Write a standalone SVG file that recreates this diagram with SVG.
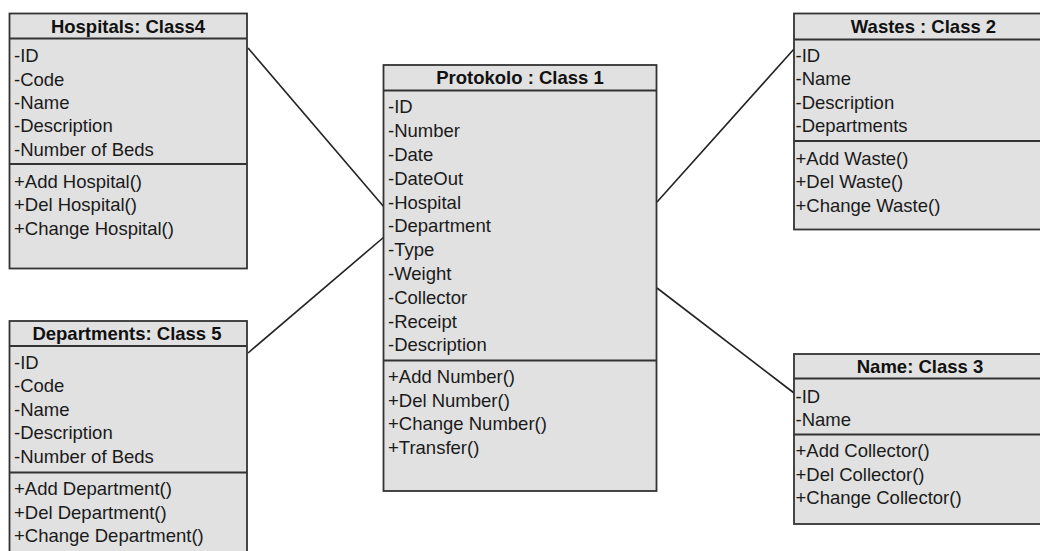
<svg xmlns="http://www.w3.org/2000/svg" width="1040" height="551" viewBox="0 0 1040 551">
<style>
.box{fill:#e1e1e1;stroke:#333;stroke-width:1.8}
.sep{stroke:#333;stroke-width:1.8}
.title{font-family:"Liberation Sans",Arial,sans-serif;font-size:18.5px;font-weight:bold;fill:#111;text-anchor:middle}
.item{font-family:"Liberation Sans",Arial,sans-serif;font-size:18.5px;fill:#1a1a1a}
.conn{stroke:#222;stroke-width:1.6;fill:none}
</style>
<rect width="1040" height="551" fill="#fff"/>
<g id="connectors">
<line class="conn" x1="248" y1="48" x2="384" y2="207"/>
<line class="conn" x1="248" y1="353" x2="384" y2="237"/>
<line class="conn" x1="657" y1="202" x2="794" y2="49"/>
<line class="conn" x1="657" y1="288" x2="794" y2="393"/>
</g>
<g id="hospitals">
<rect class="box" x="9.5" y="13.5" width="237.5" height="255"/>
<line class="sep" x1="9.5" y1="38.5" x2="247" y2="38.5"/>
<line class="sep" x1="9.5" y1="164" x2="247" y2="164"/>
<text class="title" x="128" y="32.5">Hospitals: Class4</text>
<text class="item" x="14" y="62">-ID</text>
<text class="item" x="14" y="85.5">-Code</text>
<text class="item" x="14" y="109">-Name</text>
<text class="item" x="14" y="132.3">-Description</text>
<text class="item" x="14" y="155.6">-Number of Beds</text>
<text class="item" x="14" y="187.5">+Add Hospital()</text>
<text class="item" x="14" y="211">+Del Hospital()</text>
<text class="item" x="14" y="234.5">+Change Hospital()</text>
</g>
<g id="departments">
<rect class="box" x="9.5" y="321" width="237.5" height="240"/>
<line class="sep" x1="9.5" y1="346" x2="247" y2="346"/>
<line class="sep" x1="9.5" y1="472.5" x2="247" y2="472.5"/>
<text class="title" x="127" y="339.5">Departments: Class 5</text>
<text class="item" x="14" y="368.5">-ID</text>
<text class="item" x="14" y="392">-Code</text>
<text class="item" x="14" y="415.5">-Name</text>
<text class="item" x="14" y="439">-Description</text>
<text class="item" x="14" y="462.5">-Number of Beds</text>
<text class="item" x="14" y="495">+Add Department()</text>
<text class="item" x="14" y="518.5">+Del Department()</text>
<text class="item" x="14" y="542">+Change Department()</text>
</g>
<g id="protokolo">
<rect class="box" x="383.5" y="65" width="273" height="426"/>
<line class="sep" x1="383.5" y1="90.5" x2="656.5" y2="90.5"/>
<line class="sep" x1="383.5" y1="360.5" x2="656.5" y2="360.5"/>
<text class="title" x="520" y="84">Protokolo : Class 1</text>
<text class="item" x="388" y="113.3">-ID</text>
<text class="item" x="388" y="137.1">-Number</text>
<text class="item" x="388" y="160.9">-Date</text>
<text class="item" x="388" y="184.7">-DateOut</text>
<text class="item" x="388" y="208.5">-Hospital</text>
<text class="item" x="388" y="232.3">-Department</text>
<text class="item" x="388" y="256.1">-Type</text>
<text class="item" x="388" y="279.9">-Weight</text>
<text class="item" x="388" y="303.7">-Collector</text>
<text class="item" x="388" y="327.5">-Receipt</text>
<text class="item" x="388" y="351.3">-Description</text>
<text class="item" x="388" y="382.7">+Add Number()</text>
<text class="item" x="388" y="406.5">+Del Number()</text>
<text class="item" x="388" y="430.3">+Change Number()</text>
<text class="item" x="388" y="454">+Transfer()</text>
</g>
<g id="wastes">
<rect class="box" x="794" y="13.5" width="259" height="216"/>
<line class="sep" x1="794" y1="39.5" x2="1053" y2="39.5"/>
<line class="sep" x1="794" y1="141" x2="1053" y2="141"/>
<text class="title" x="923.5" y="32.5">Wastes : Class 2</text>
<text class="item" x="795.5" y="61.7">-ID</text>
<text class="item" x="795.5" y="85.2">-Name</text>
<text class="item" x="795.5" y="108.6">-Description</text>
<text class="item" x="795.5" y="132">-Departments</text>
<text class="item" x="795.5" y="165">+Add Waste()</text>
<text class="item" x="795.5" y="188.4">+Del Waste()</text>
<text class="item" x="795.5" y="211.8">+Change Waste()</text>
</g>
<g id="name-class">
<rect class="box" x="794" y="354" width="252" height="170"/>
<line class="sep" x1="794" y1="378.5" x2="1046" y2="378.5"/>
<line class="sep" x1="794" y1="434.5" x2="1046" y2="434.5"/>
<text class="title" x="920" y="373.3">Name: Class 3</text>
<text class="item" x="795.5" y="402.7">-ID</text>
<text class="item" x="795.5" y="426">-Name</text>
<text class="item" x="795.5" y="457.3">+Add Collector()</text>
<text class="item" x="795.5" y="480.5">+Del Collector()</text>
<text class="item" x="795.5" y="503.7">+Change Collector()</text>
</g>
</svg>
